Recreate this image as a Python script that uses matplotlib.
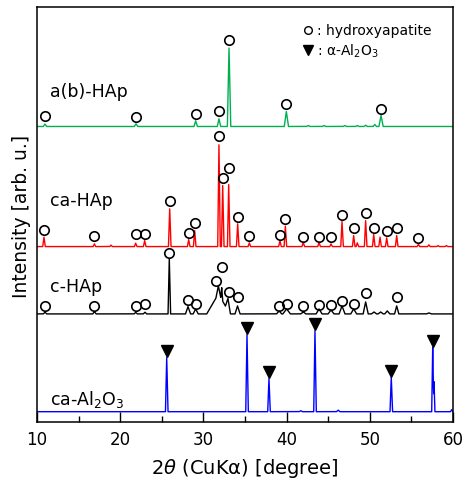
import numpy as np
import matplotlib

matplotlib.use("Agg")
import matplotlib.pyplot as plt
from matplotlib.ticker import MultipleLocator

plt.rcParams["font.family"] = ["DejaVu Sans"]
plt.rcParams["mathtext.fontset"] = "dejavusans"

# peak lists: position [deg], height [px above baseline], half width [deg]
abhap_pos = [10.96, 21.9, 29.07, 31.87, 33.08, 39.97, 42.6, 44.5, 47.0, 48.5, 49.5, 50.6, 51.35]
abhap_h = [2.4, 2.7, 5.7, 7.7, 78.4, 15.0, 1.0, 1.0, 1.0, 1.0, 1.3, 2.0, 11.0]
abhap_w = [0.2, 0.2, 0.2, 0.2, 0.2, 0.25, 0.2, 0.2, 0.2, 0.2, 0.2, 0.2, 0.25]

cahap_pos = [10.84, 16.9, 18.9, 21.86, 22.94, 25.95, 28.23, 28.95, 31.87, 32.32, 33.04, 34.12,
             35.52, 39.2, 39.85, 42.0, 43.9, 45.34, 46.66, 48.06, 48.5, 49.5, 50.47, 51.23,
             52.03, 53.23, 55.84, 57.1, 58.2, 59.2]
cahap_h = [9.4, 2.7, 1.5, 3.4, 6.0, 37.7, 7.0, 16.0, 101.7, 61.0, 62.0, 22.7,
           3.7, 6.0, 20.4, 4.4, 4.4, 2.7, 25.0, 11.0, 3.7, 26.0, 12.0, 9.4,
           8.7, 11.0, 2.4, 1.7, 1.0, 1.0]
cahap_w = [0.15] * len(cahap_pos)

chap_pos = [10.96, 16.9, 21.86, 22.98, 25.9, 28.15, 29.07, 31.8, 31.8, 32.2, 32.95, 34.1,
            39.1, 40.0, 42.0, 43.9, 45.34, 46.66, 48.06, 49.5, 50.5, 51.3, 52.1, 53.23, 57.1]
chap_h = [1.7, 2.3, 1.5, 1.7, 55.0, 7.3, 5.0, 20.0, 8.0, 12.0, 12.0, 8.0,
          3.0, 5.0, 2.0, 5.0, 4.0, 8.0, 5.0, 12.0, 2.0, 2.0, 3.0, 8.0, 1.0]
chap_w = [0.2, 0.2, 0.2, 0.2, 0.15, 0.3, 0.3, 1.4, 0.3, 0.12, 0.3, 0.3,
          0.3, 0.45, 0.3, 0.35, 0.35, 0.35, 0.35, 0.3, 0.3, 0.3, 0.3, 0.25, 0.3]

al2o3_pos = [25.59, 35.24, 37.88, 41.7, 43.41, 46.2, 52.58, 57.56, 57.72, 59.85]
al2o3_h = [54.0, 77.0, 33.0, 1.0, 81.0, 1.5, 34.4, 64.4, 30.0, 2.0]
al2o3_w = [0.15, 0.15, 0.15, 0.2, 0.15, 0.2, 0.15, 0.12, 0.1, 0.15]

# baselines (arb. units) of the stacked patterns
base_ab, base_ca, base_c, base_al = 295.3, 175.3, 108.0, 10.3

# marker positions (deg, arb.)
ab_circ_x = [10.96, 21.9, 29.07, 31.87, 33.08, 39.97, 51.35]
ab_circ_y = [306.0, 305.0, 307.7, 310.7, 382.0, 318.0, 313.0]
ca_circ_x = [10.84, 16.9, 21.86, 22.94, 25.95, 28.23, 28.95, 31.87, 32.32, 33.04, 34.12, 35.52,
             39.2, 39.85, 42.0, 43.9, 45.34, 46.66, 48.06, 49.5, 50.47, 52.03, 53.23, 55.84]
ca_circ_y = [192.3, 186.3, 188.0, 188.0, 220.7, 188.7, 198.7, 285.3, 243.7, 253.7, 205.0, 186.3,
             187.0, 203.0, 185.3, 185.3, 185.3, 207.3, 193.7, 209.3, 194.3, 190.7, 193.7, 184.3]
c_circ_x = [10.96, 16.9, 21.86, 22.98, 25.9, 28.15, 29.07, 31.5, 32.25, 33.04, 34.16,
            39.1, 40.0, 42.0, 43.9, 45.34, 46.66, 48.06, 49.5, 53.23]
c_circ_y = [116.3, 116.3, 115.7, 118.0, 169.0, 122.0, 118.0, 140.7, 154.7, 130.3, 124.7,
            115.7, 118.0, 115.7, 117.3, 117.3, 121.3, 117.7, 128.7, 125.3]
al_tri_x = [25.59, 35.24, 37.88, 43.41, 52.58, 57.56]
al_tri_y = [71.3, 93.7, 49.7, 98.0, 51.3, 81.3]

x = np.arange(10.0, 60.0001, 0.01)


def pattern(pos, h, w, base):
    y = np.full_like(x, base)
    for p, hh, ww in zip(pos, h, w):
        y += hh * np.clip(1 - np.abs(x - p) / ww, 0, None)
    return y


fig = plt.figure(figsize=(4.64, 4.81), dpi=100)
ax = fig.add_axes([37 / 464, 1 - 423 / 481, 416 / 464, 415 / 481])

lw = 1.0
ax.plot(x, pattern(abhap_pos, abhap_h, abhap_w, base_ab), color="#00b050", lw=lw)
ax.plot(x, pattern(cahap_pos, cahap_h, cahap_w, base_ca), color="#ff0000", lw=lw)
ax.plot(x, pattern(chap_pos, chap_h, chap_w, base_c), color="black", lw=lw)
ax.plot(x, pattern(al2o3_pos, al2o3_h, al2o3_w, base_al), color="#0000ff", lw=lw)

circ = dict(ls="none", marker="o", ms=6.8, mfc="none", mec="black", mew=1.2)
for cx, cy in [(ab_circ_x, ab_circ_y), (ca_circ_x, ca_circ_y), (c_circ_x, c_circ_y)]:
    ax.plot(cx, cy, **circ)
ax.plot(al_tri_x, al_tri_y, ls="none", marker="v", ms=8.5, color="black")

lab = dict(fontsize=12.5, ha="left", va="baseline")
ax.text(11.56, 325.3, "a(b)-HAp", **lab)
ax.text(11.56, 217.3, "ca-HAp", **lab)
ax.text(11.56, 131.3, "c-HAp", **lab)
ax.text(11.56, 18.0, "ca-Al$_2$O$_3$", **lab)

# key in the upper right
ax.plot([42.6], [391.3], ls="none", marker="o", ms=5.5, mfc="none", mec="black", mew=1.0)
ax.plot([42.6], [371.3], ls="none", marker="v", ms=7, color="black")
ax.text(43.6, 387.5, ": hydroxyapatite", fontsize=10, va="baseline")
ax.text(43.6, 367.5, ": α-Al$_2$O$_3$", fontsize=10, va="baseline")

ax.set_xlim(10, 60)
ax.set_ylim(0, 414.7)
ax.set_yticks([])
ax.xaxis.set_major_locator(MultipleLocator(10))
ax.xaxis.set_minor_locator(MultipleLocator(5))
ax.tick_params(axis="x", which="both", direction="in", labelsize=12, width=1.0, pad=6)
ax.tick_params(axis="x", which="major", length=7)
ax.tick_params(axis="x", which="minor", length=4)
for s in ax.spines.values():
    s.set_linewidth(1.1)

fig.text(245 / 464, 1 - 469 / 481, r"2$\it{\theta}$ (CuKα) [degree]", fontsize=14,
         ha="center", va="center")
fig.text(22 / 464, 1 - 216 / 481, "Intensity [arb. u.]", fontsize=13.5, rotation=90,
         ha="center", va="center")

fig.savefig("out.png", dpi=100)
